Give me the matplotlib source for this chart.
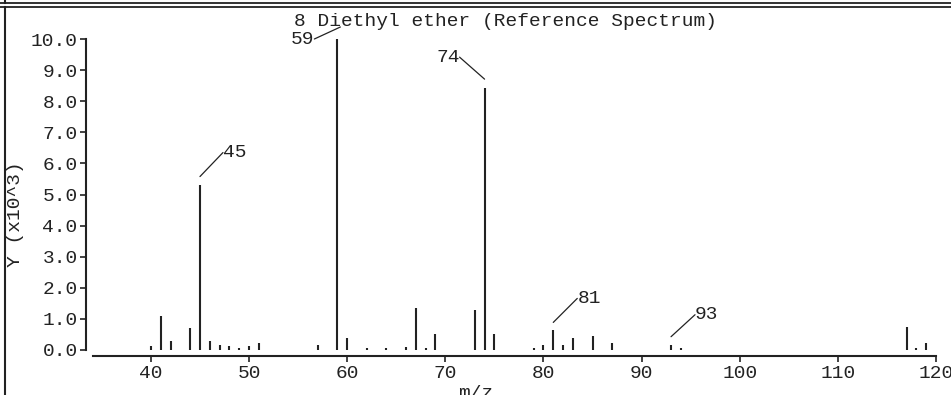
import matplotlib
matplotlib.use("Agg")
import matplotlib.pyplot as plt
from matplotlib.lines import Line2D
from matplotlib.transforms import offset_copy

# Спектр: m/z и интенсивность (x10^3)
mz = [40, 41, 42, 44, 45, 46, 47, 48, 49, 50, 51, 57, 59, 60, 62, 64, 66, 67,
      68, 69, 73, 74, 75, 79, 80, 81, 82, 83, 85, 87, 93, 94, 117, 118, 119]
intensity = [0.14, 1.10, 0.28, 0.71, 5.32, 0.28, 0.15, 0.14, 0.08, 0.14, 0.21, 0.15, 10.0, 0.40, 0.07, 0.07, 0.10, 1.36,
             0.07, 0.50, 1.30, 8.42, 0.50, 0.07, 0.15, 0.63, 0.15, 0.39, 0.45, 0.22, 0.17, 0.07, 0.74, 0.07, 0.22]

labeled = [45, 59, 74, 81, 93]
x_ticks = [40, 50, 60, 70, 80, 90, 100, 110, 120]
y_ticks = [0, 1, 2, 3, 4, 5, 6, 7, 8, 9, 10]

title = "8 Diethyl ether (Reference Spectrum)"

# смещения подписей в пикселях: (начало линии), (текст от начала), выравнивание
label_style = {
    45: ((0, 8), (23, 24), 'left'),
    59: ((3, 12), (-26, -12), 'right'),
    74: ((0, 9), (-25, 22), 'right'),
    81: ((0, 8), (24, 24), 'left'),
    93: ((0, 8), (24, 22), 'left'),
}

W, H = 951, 395
FONT = 'Liberation Mono'
FS = 14
plt.rcParams['font.family'] = [FONT, 'DejaVu Sans Mono']

fig = plt.figure(figsize=(W / 100, H / 100), dpi=100)
ax = fig.add_axes([93 / W, (H - 350) / H, (936 - 93) / W, (350 - 39) / H])

ax.vlines(mz, 0, intensity, color='#222222', linewidth=1.5)
ax.set_xlim(34.1, 120)
ax.set_ylim(0, 10)

for s in ['top', 'right']:
    ax.spines[s].set_visible(False)
ax.spines['left'].set_position(('outward', 5))
ax.spines['bottom'].set_position(('outward', 4))
for s in ['left', 'bottom']:
    ax.spines[s].set_linewidth(1.5)
    ax.spines[s].set_color('#222222')

ax.set_xticks(x_ticks)
ax.set_xticklabels([str(v) for v in x_ticks])
ax.set_yticks(y_ticks)
ax.set_yticklabels([f"{v:.1f}" for v in y_ticks])
ax.tick_params(axis='y', length=4, width=1.2, pad=2, labelsize=FS, colors='#222222')
ax.tick_params(axis='x', length=4, width=1.2, pad=3, labelsize=FS, colors='#222222')

# подписи пиков
for m in labeled:
    h = intensity[mz.index(m)]
    (sx, sy), (tx, ty), side = label_style[m]
    start = offset_copy(ax.transData, fig=fig, x=sx, y=sy, units='dots')
    ax.annotate(str(m), xy=(m, h), xycoords=start, xytext=(tx, ty),
                textcoords='offset pixels', ha=side, va='center',
                fontsize=FS, color='#222222',
                arrowprops=dict(arrowstyle='-', color='#222222', lw=0.9,
                                shrinkA=0, shrinkB=0, patchA=None,
                                relpos=(0, 0.5) if side == 'left' else (1, 0.5)))

fig.text(505 / W, 1 - 22 / H, title, ha='center', va='center', fontsize=FS, color='#222222')
fig.text(16 / W, 1 - 214 / H, "Y (x10^3)", rotation=90, ha='center', va='center',
         fontsize=FS, color='#222222')
fig.text(476 / W, 1 - 394 / H, "m/z", ha='center', va='center', fontsize=FS, color='#222222')
# обрезанная подпись соседнего графика сверху
fig.text(476 / W, 1 + 6 / H, "m/z", ha='center', va='center', fontsize=FS, color='#222222')

# рамка панели
fig.add_artist(Line2D([0, 1], [1 - 2.5 / H, 1 - 2.5 / H], transform=fig.transFigure, color='#222222', lw=1.3))
fig.add_artist(Line2D([0, 1], [1 - 7 / H, 1 - 7 / H], transform=fig.transFigure, color='#222222', lw=1.3))
fig.add_artist(Line2D([4.5 / W, 4.5 / W], [0, 1 - 7 / H], transform=fig.transFigure, color='#222222', lw=1.5))
fig.add_artist(Line2D([4.5 / W, 4.5 / W], [1 - 2.5 / H, 1], transform=fig.transFigure, color='#222222', lw=1.5))

fig.savefig("out.png", dpi=100)
